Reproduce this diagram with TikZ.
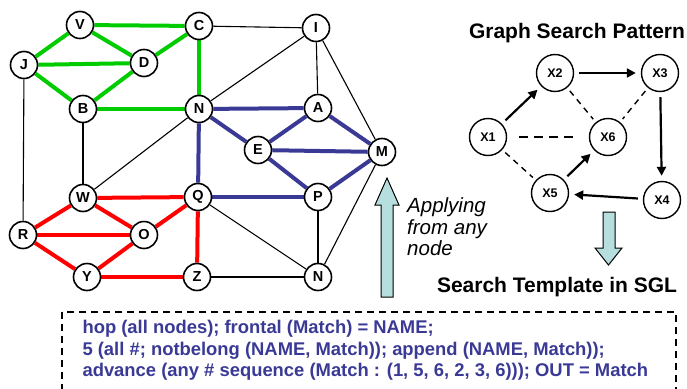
\documentclass[tikz,border=0pt]{standalone}
\usepackage{fontspec}
\setmainfont{Liberation Sans}
\usetikzlibrary{arrows.meta,backgrounds}
\definecolor{gr}{RGB}{0,204,0}
\definecolor{bl}{RGB}{58,58,150}
\definecolor{rd}{RGB}{255,0,0}
\definecolor{lb}{RGB}{182,222,222}
\begin{document}
\begin{tikzpicture}[x=1pt,y=-1pt,
  gn/.style={circle,draw,line width=1.6pt,fill=white,minimum size=27pt,inner sep=0pt,font=\bfseries\fontsize{14.5}{14.5}\selectfont},
  pn/.style={circle,draw,line width=1.4pt,fill=white,minimum size=37pt,inner sep=0pt,font=\bfseries\fontsize{12.5}{12.5}\selectfont},
  ge/.style={gr,line width=4pt},
  be/.style={bl,line width=4pt},
  re/.style={rd,line width=4pt},
  ke/.style={black,line width=1.1pt},
  parr/.style={line width=2.2pt,-{Triangle[length=9pt,width=9pt]},shorten <=5pt,shorten >=5pt},
  pdash/.style={line width=1.4pt,dash pattern=on 6pt off 5pt,shorten <=4pt,shorten >=4pt},
  bigarrow/.style={draw=black,line width=1pt,fill=lb},
  code/.style={anchor=west,text=bl,font=\bfseries\fontsize{18.4}{18.4}\selectfont},
  title/.style={font=\bfseries\fontsize{21}{21}\selectfont}
]
\useasboundingbox (0,0) rectangle (687,388);
\clip (0,0) rectangle (687,388);

% left graph nodes
\node[gn] (V) at (80,25) {V};
\node[gn] (C) at (199,26) {C};
\node[gn] (I) at (316,28) {I};
\node[gn] (J) at (24,65) {J};
\node[gn] (D) at (144,63) {D};
\node[gn] (B) at (83,109) {B};
\node[gn] (N1) at (199,109) {N};
\node[gn] (A) at (318,108) {A};
\node[gn] (E) at (258,150) {E};
\node[gn] (M) at (382,152) {M};
\node[gn] (W) at (83,198) {W};
\node[gn] (Q) at (198,197) {Q};
\node[gn] (P) at (318,197) {P};
\node[gn] (R) at (23,235) {R};
\node[gn] (O) at (144,235) {O};
\node[gn] (Y) at (87,277) {Y};
\node[gn] (Z) at (197,277) {Z};
\node[gn] (N2) at (318,277) {N};

\begin{scope}[on background layer]
  % black edges
  \draw[ke] (C) -- (I);
  \draw[ke] (I) -- (N1);
  \draw[ke] (I) -- (A);
  \draw[ke] (I) -- (M);
  \draw[ke] (J) -- (R);
  \draw[ke] (B) -- (W);
  \draw[ke] (W) -- (N1);
  \draw[ke] (Q) -- (N2);
  \draw[ke] (Z) -- (N2);
  \draw[ke] (P) -- (N2);
  \draw[ke] (M) -- (N2);
  % green edges
  \draw[ge] (V) -- (C);
  \draw[ge] (V) -- (J);
  \draw[ge] (V) -- (D);
  \draw[ge] (C) -- (D);
  \draw[ge] (J) -- (D);
  \draw[ge] (J) -- (B);
  \draw[ge] (B) -- (D);
  \draw[ge] (C) -- (N1);
  \draw[ge] (B) -- (N1);
  % blue edges
  \draw[be] (N1) -- (A);
  \draw[be] (N1) -- (E);
  \draw[be] (N1) -- (Q);
  \draw[be] (A) -- (E);
  \draw[be] (A) -- (M);
  \draw[be] (E) -- (M);
  \draw[be] (E) -- (P);
  \draw[be] (P) -- (M);
  \draw[be] (Q) -- (P);
  % red edges
  \draw[re] (W) -- (Q);
  \draw[re] (W) -- (R);
  \draw[re] (W) -- (O);
  \draw[re] (R) -- (O);
  \draw[re] (R) -- (Y);
  \draw[re] (Y) -- (O);
  \draw[re] (O) -- (Q);
  \draw[re] (Q) -- (Z);
  \draw[re] (Y) -- (Z);
\end{scope}

% up arrow
\draw[bigarrow] (381,297) -- (381,205) -- (375,205) -- (387,178) -- (399,205) -- (393,205) -- (393,297) -- cycle;
\node[anchor=west,align=left,font=\itshape\fontsize{20.5}{21.5}\selectfont,inner sep=0pt] (apply) at (407,227) {Applying\\from any\\node};

% pattern graph
\node[title] (gtitle) at (577,33) {Graph Search Pattern};
\node[pn] (X1) at (488,137) {X1};
\node[pn] (X2) at (555,73) {X2};
\node[pn] (X3) at (660,73) {X3};
\node[pn] (X4) at (662,200) {X4};
\node[pn] (X5) at (550,193) {X5};
\node[pn] (X6) at (608,137) {X6};
\draw[parr] (X2) -- (X3);
\draw[parr] (X1) -- (X2);
\draw[parr] (X3) -- (X4);
\draw[parr] (X4) -- (X5);
\draw[parr] (X5) -- (X6);
\draw[pdash] (X2) -- (X6);
\draw[pdash] (X3) -- (X6);
\draw[pdash] (X1) -- (X5);
\draw[line width=2.5pt,dash pattern=on 9pt off 6pt,shorten <=12pt,shorten >=11pt] (X1) -- (X6);

% down arrow
\draw[bigarrow] (603,212) -- (615,212) -- (615,248) -- (622,248) -- (608.5,265) -- (595,248) -- (603,248) -- cycle;
\node[title] (stitle) at (557,287) {Search Template in SGL};

% code box
\draw[line width=2pt,dash pattern=on 7pt off 5pt] (62,312) rectangle (676,400);
\node[code] (l1) at (79,329) {hop (all nodes); frontal (Match) = NAME;};
\node[code] (l2) at (79,351) {5 (all \#; notbelong (NAME, Match)); append (NAME, Match));};
\node[code] (l3) at (79,372) {advance (any \# sequence (Match : (1, 5, 6, 2, 3, 6))); OUT = Match};
\end{tikzpicture}
\end{document}
